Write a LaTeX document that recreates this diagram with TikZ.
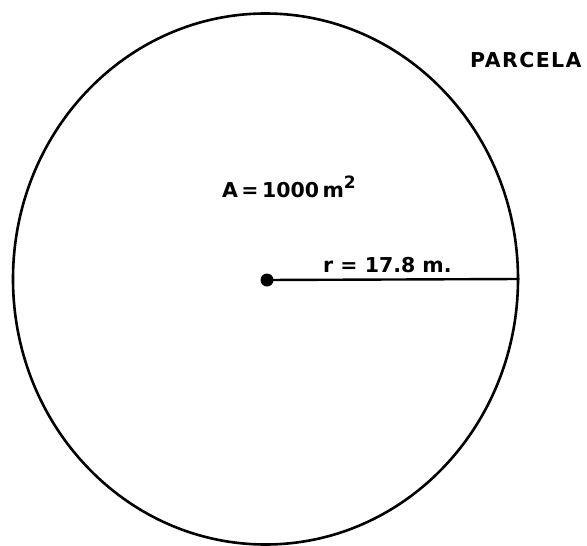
\documentclass[tikz,border=0pt]{standalone}
\usepackage{fontspec}
\setmainfont{DejaVu Sans}
\usetikzlibrary{shapes.geometric}
\tikzset{
  lbl/.style={anchor=base west, inner sep=0pt, font=\bfseries\fontsize{20.5}{24}\selectfont},
  outline/.style={draw, line width=2.6pt},
}
\begin{document}
\begin{tikzpicture}[x=1pt, y=-1pt]
\useasboundingbox (0,0) rectangle (587,546);
\node[outline, ellipse, minimum width=505pt, minimum height=531pt, inner sep=0pt] (plot) at (265.5,279) {};
\node[circle, fill, minimum width=13pt, minimum height=13pt, inner sep=0pt] (dot) at (267,280) {};
\draw[line width=2.4pt] (dot.center) -- (plot.east);
\node[lbl] (parcela) at (470,67) {\addfontfeature{LetterSpace=7}PARCELA};
\node[lbl] (area) at (222,197) {A\,=\,1000\,m\raisebox{9pt}{\fontsize{17}{17}\selectfont 2}};
\node[lbl] (radius) at (323,272) {r = 17.8 m.};
\end{tikzpicture}
\end{document}
